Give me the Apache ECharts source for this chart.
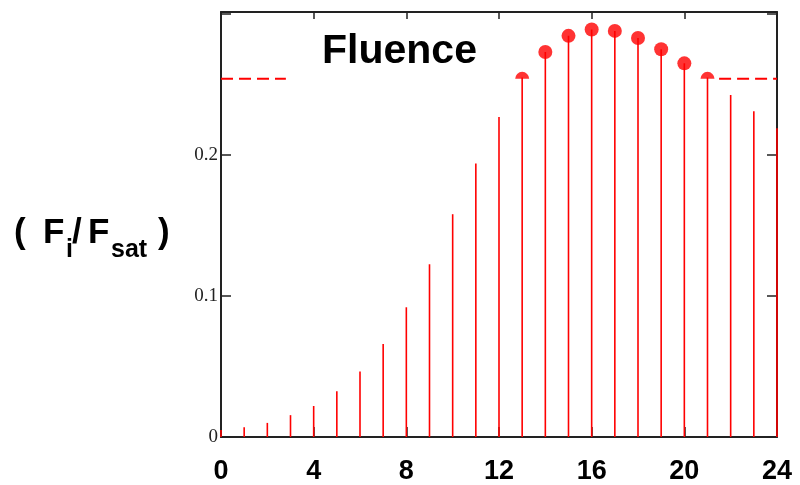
<!DOCTYPE html>
<html>
<head>
<meta charset="utf-8">
<script src="https://cdn.jsdelivr.net/npm/echarts@6/dist/echarts.min.js"></script>
<style>
  html, body { margin: 0; padding: 0; background: #fff; }
  #chart { width: 800px; height: 485px; }
</style>
</head>
<body>
<div id="chart"></div>
<script>
  // stems: F_i / F_sat for i = 0..24
  let steps = [0, 1, 2, 3, 4, 5, 6, 7, 8, 9, 10, 11, 12, 13, 14, 15, 16, 17, 18, 19, 20, 21, 22, 23, 24]
  let fluence = [0.005, 0.007, 0.010, 0.0155, 0.022, 0.0325, 0.0465, 0.066, 0.092, 0.1225, 0.158, 0.194, 0.227,
    0.255, 0.273, 0.2845, 0.289, 0.288, 0.283, 0.275, 0.265, 0.255, 0.2425, 0.231, 0.219]
  // threshold line (dashed) and the points above it
  let threshold = 0.254
  let dashLeft = [0, 2.8]
  let dashRight = [21.5, 24]
  let fullDots = [14, 15, 16, 17, 18, 19, 20]
  let halfDots = [13, 21]
  let xTicks = [0, 4, 8, 12, 16, 20, 24]
  let yTicks = [0, 0.1, 0.2]

  let red = '#ff0000'
  let axisColor = '#222'
  let boldFont = '"Liberation Sans", Arial'

  function valueAt(i) {
    return fluence[steps.indexOf(i)]
  }

  let chart = echarts.init(document.getElementById('chart'))
  chart.setOption({
    animation: false,
    backgroundColor: '#fff',
    grid: { left: 221, right: 23, top: 12, bottom: 45 },
    xAxis: [
      {
        type: 'value', min: 0, max: 24, interval: 4, position: 'bottom',
        axisLine: { onZero: false, lineStyle: { color: axisColor, width: 2 } },
        axisTick: { inside: true, length: 10, lineStyle: { color: axisColor, width: 1.5 } },
        axisLabel: {
          margin: 21, color: '#000', fontFamily: boldFont, fontWeight: 'bold', fontSize: 27,
          formatter: v => xTicks.indexOf(v) >= 0 ? String(v) : ''
        },
        splitLine: { show: false }
      },
      {
        type: 'value', min: 0, max: 24, interval: 4, position: 'top',
        axisLine: { onZero: false, lineStyle: { color: axisColor, width: 2 } },
        axisTick: { inside: true, length: 7, lineStyle: { color: axisColor, width: 1.5 } },
        axisLabel: { show: false },
        splitLine: { show: false }
      }
    ],
    yAxis: [
      {
        type: 'value', min: 0, max: 0.3014, interval: 0.1, position: 'left',
        axisLine: { show: true, onZero: false, lineStyle: { color: axisColor, width: 2 } },
        axisTick: { show: true, inside: true, length: 10, lineStyle: { color: axisColor, width: 1.5 } },
        axisLabel: {
          margin: 3, color: '#222', fontFamily: '"Liberation Serif", "Times New Roman"', fontSize: 19,
          showMaxLabel: false,
          formatter: v => {
            let hit = yTicks.find(t => Math.abs(t - v) < 1e-6)
            return hit === undefined ? '' : String(hit)
          }
        },
        splitLine: { show: false }
      },
      {
        type: 'value', min: 0, max: 0.3014, interval: 0.1, position: 'right',
        axisLine: { show: true, onZero: false, lineStyle: { color: axisColor, width: 2 } },
        axisTick: { show: true, inside: true, length: 10, lineStyle: { color: axisColor, width: 1.5 } },
        axisLabel: { show: false },
        splitLine: { show: false }
      }
    ],
    graphic: [
      {
        type: 'text', left: 322, top: 31,
        style: { text: 'Fluence', fill: '#000', font: 'bold 41px ' + boldFont }
      },
      { type: 'text', left: 14, top: 216, style: { text: '(', fill: '#000', font: 'bold 35px ' + boldFont } },
      { type: 'text', left: 43, top: 216, style: { text: 'F', fill: '#000', font: 'bold 35px ' + boldFont } },
      { type: 'text', left: 66, top: 238, style: { text: 'i', fill: '#000', font: 'bold 25px ' + boldFont } },
      { type: 'text', left: 72, top: 216, style: { text: '/', fill: '#000', font: 'bold 35px ' + boldFont } },
      { type: 'text', left: 88, top: 216, style: { text: 'F', fill: '#000', font: 'bold 35px ' + boldFont } },
      { type: 'text', left: 111, top: 238, style: { text: 'sat', fill: '#000', font: 'bold 25px ' + boldFont } },
      { type: 'text', left: 158, top: 216, style: { text: ')', fill: '#000', font: 'bold 35px ' + boldFont } }
    ],
    series: [
      {
        type: 'bar',
        data: steps.map((s, i) => [s, fluence[i]]),
        barWidth: 1.6,
        itemStyle: { color: red },
        silent: true,
        z: 2
      },
      {
        type: 'line',
        data: [[dashLeft[0], threshold], [dashLeft[1], threshold], '-', [dashRight[0], threshold], [dashRight[1], threshold]],
        showSymbol: false,
        connectNulls: false,
        lineStyle: { color: red, width: 2, type: [12, 6] },
        silent: true,
        z: 3
      },
      {
        type: 'scatter',
        data: fullDots.map(i => [i, valueAt(i)]),
        symbol: 'circle',
        symbolSize: 14,
        itemStyle: { color: red },
        silent: true,
        z: 4
      },
      {
        type: 'scatter',
        data: halfDots.map(i => [i, threshold]),
        symbol: 'path://M0,10 A10,10 0 0 1 20,10 Z',
        symbolSize: [14, 7],
        symbolOffset: [0, -3.5],
        itemStyle: { color: red },
        silent: true,
        z: 4
      }
    ]
  })
</script>
</body>
</html>
